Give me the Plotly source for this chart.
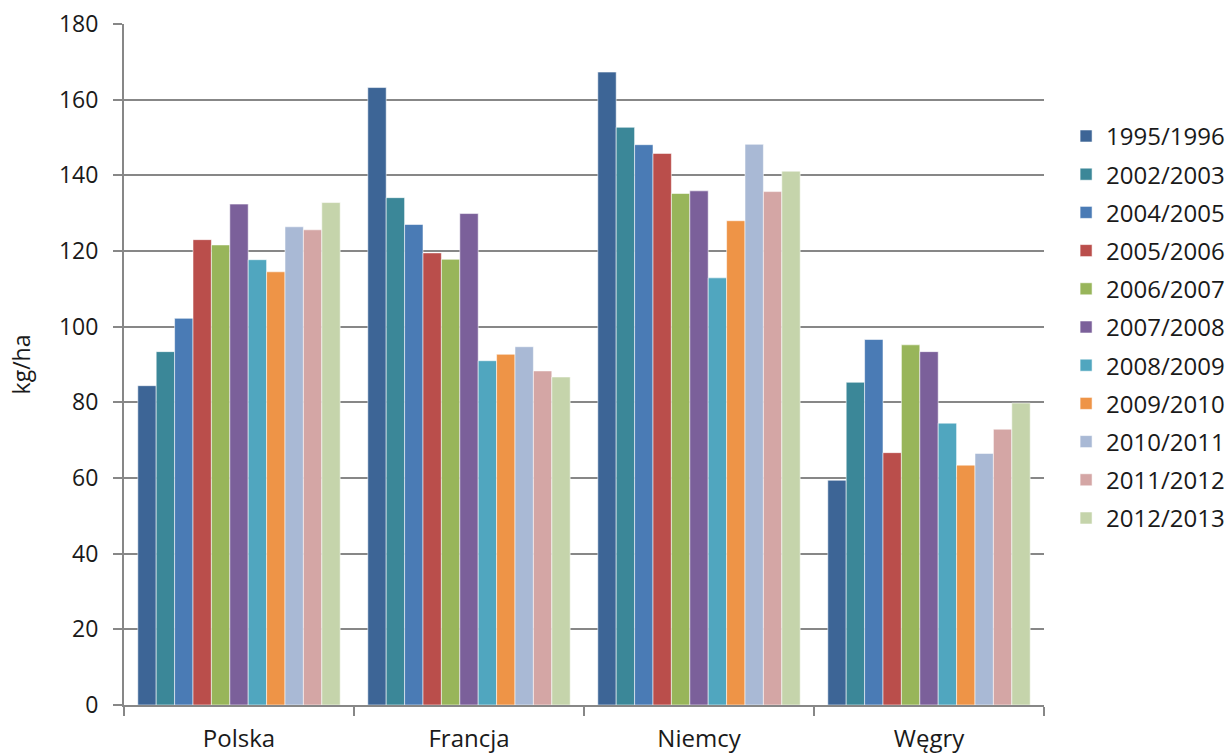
import plotly.graph_objects as go

countries = ["Polska", "Francja", "Niemcy", "Węgry"]

seasons = ["1995/1996", "2002/2003", "2004/2005", "2005/2006", "2006/2007",
           "2007/2008", "2008/2009", "2009/2010", "2010/2011", "2011/2012",
           "2012/2013"]

# kg/ha per season, in country order: Polska, Francja, Niemcy, Węgry
v_1995_1996 = [84.4, 163.2, 167.3, 59.4]
v_2002_2003 = [93.4, 134.1, 152.7, 85.3]
v_2004_2005 = [102.2, 127.0, 148.1, 96.6]
v_2005_2006 = [123.0, 119.5, 145.8, 66.7]
v_2006_2007 = [121.6, 117.8, 135.2, 95.2]
v_2007_2008 = [132.4, 129.9, 135.9, 93.4]
v_2008_2009 = [117.7, 91.0, 112.9, 74.5]
v_2009_2010 = [114.5, 92.7, 128.0, 63.4]
v_2010_2011 = [126.4, 94.7, 148.2, 66.5]
v_2011_2012 = [125.6, 88.3, 135.7, 72.9]
v_2012_2013 = [132.8, 86.7, 141.1, 79.8]

series = [v_1995_1996, v_2002_2003, v_2004_2005, v_2005_2006, v_2006_2007,
          v_2007_2008, v_2008_2009, v_2009_2010, v_2010_2011, v_2011_2012,
          v_2012_2013]

colors = ["#3D6596", "#3B8798", "#4A7BB5", "#BA4E4B", "#98B55A", "#7B609A",
          "#50A6BF", "#EE9447", "#A9B9D5", "#D4A6A5", "#C5D4AB"]

fig = go.Figure()
for name, vals, col in zip(seasons, series, colors):
    fig.add_trace(go.Bar(
        x=countries, y=vals, name=name, legendgroup=name,
        marker=dict(color=col, line=dict(color="rgba(255,255,255,0.55)", width=1)),
    ))

grid = "#878787"
txt = "#1a1a1a"
fig.update_layout(
    width=1232, height=754,
    paper_bgcolor="white", plot_bgcolor="white",
    margin=dict(l=124, r=188, t=24, b=49, autoexpand=False),
    barmode="group", bargap=0.12, bargroupgap=0,
    font=dict(family="Open Sans", color=txt),
    legend=dict(
        x=1.024, xanchor="left", y=0.868, yanchor="top",
        font=dict(family="Open Sans", size=24, color=txt),
        traceorder="grouped", tracegroupgap=4,
        bgcolor="rgba(0,0,0,0)",
    ),
    showlegend=True,
)
fig.update_yaxes(
    range=[0, 180], dtick=20, tick0=0, automargin=False,
    showgrid=True, gridcolor=grid, gridwidth=1.6,
    showline=True, linecolor=grid, linewidth=2,
    ticks="outside", ticklen=9, tickcolor=grid, tickwidth=1.5,
    tickfont=dict(family="Open Sans", size=23, color=txt),
    ticklabelstandoff=10,
    title=dict(text="kg/ha", font=dict(family="Open Sans", size=23, color=txt),
               standoff=22),
    zeroline=False,
)
fig.update_xaxes(
    automargin=False,
    showline=True, linecolor=grid, linewidth=2,
    ticks="outside", tickson="boundaries", ticklen=9, tickcolor=grid, tickwidth=1.5,
    tickfont=dict(family="Open Sans", size=24, color=txt),
    ticklabelstandoff=11,
)

fig.write_html("out.html")
